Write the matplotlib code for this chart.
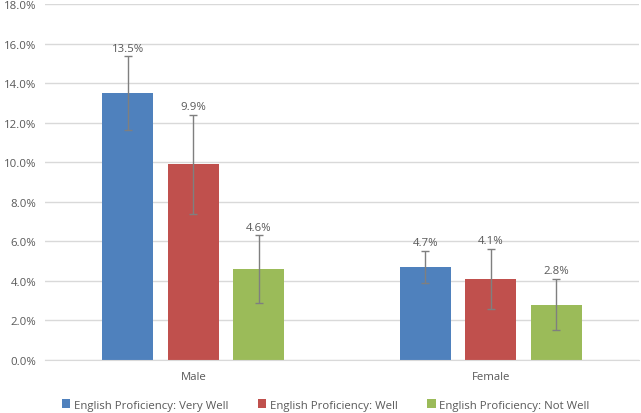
import matplotlib
matplotlib.use("Agg")
import matplotlib.pyplot as plt
import numpy as np
from matplotlib.patches import Patch

plt.rcParams['font.family'] = ['Open Sans', 'DejaVu Sans']

categories = ["Male", "Female"]
series_names = ["English Proficiency: Very Well", "English Proficiency: Well", "English Proficiency: Not Well"]
values = [
    [13.5, 4.7],   # Very Well
    [9.9, 4.1],    # Well
    [4.6, 2.8],    # Not Well
]
errors = [
    [1.85, 0.83],
    [2.5, 1.5],
    [1.7, 1.3],
]
labels = [
    ["13.5%", "4.7%"],
    ["9.9%", "4.1%"],
    ["4.6%", "2.8%"],
]
colors = ["#4F81BD", "#C0504D", "#9BBB59"]
yticks = [0, 2, 4, 6, 8, 10, 12, 14, 16, 18]

fs = 8.2
fig = plt.figure(figsize=(6.41, 4.14), dpi=100)
ax = fig.add_axes([0.0696, 0.128, 0.928, 0.860])

x = np.arange(len(categories))
bw = 0.1715
step = 0.22
txtc = "#595959"
for i, (vals, errs, labs, c) in enumerate(zip(values, errors, labels, colors)):
    xs = x + (i - 1) * step
    ax.bar(xs, vals, width=bw, color=c, zorder=2)
    ax.errorbar(xs, vals, yerr=errs, fmt='none', ecolor="#7F7F7F", elinewidth=1,
                capsize=3, capthick=1, zorder=3)
    for xx, v, e, l in zip(xs, vals, errs, labs):
        ax.annotate(l, (xx, v + e), xytext=(0, 2), textcoords='offset points',
                    ha='center', va='bottom', fontsize=fs, color=txtc)

ax.set_xlim(-0.5, 1.5)
ax.set_ylim(0, 18)
ax.set_yticks(yticks)
ax.set_yticklabels([f"{t:.1f}%" for t in yticks])
ax.set_xticks(x)
ax.set_xticklabels(categories)
ax.tick_params(axis='both', length=0, labelsize=fs, colors=txtc)
ax.tick_params(axis='x', pad=8)
ax.tick_params(axis='y', pad=6)
ax.grid(axis='y', color="#D9D9D9", linewidth=1, zorder=0)
for s in ['top', 'right', 'left']:
    ax.spines[s].set_visible(False)
ax.spines['bottom'].set_color("#D9D9D9")

handles = [Patch(facecolor=c, label=n) for c, n in zip(colors, series_names)]
fig.legend(handles=handles, loc='center', bbox_to_anchor=(325.5 / 641, 1 - 406 / 414), ncol=3,
           frameon=False, fontsize=fs, labelcolor=txtc, handlelength=0.75, handleheight=0.75,
           handletextpad=0.3, columnspacing=2.6, borderpad=0, borderaxespad=0)

fig.savefig("out.png", dpi=100)
